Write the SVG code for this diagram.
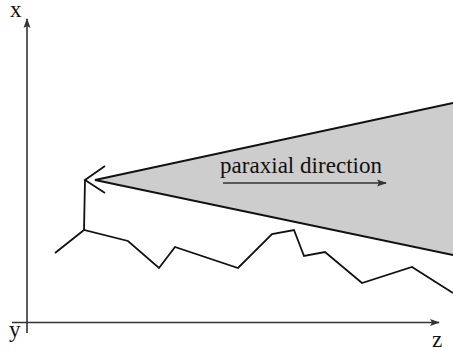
<svg xmlns="http://www.w3.org/2000/svg" width="453" height="351" viewBox="0 0 453 351">
<style>
.ax{stroke:#333;stroke-width:1.6;fill:none}
.ln{stroke:#111;stroke-width:1.8;fill:none;stroke-linejoin:miter}
.t{font-family:"Liberation Serif",serif;font-size:23px;fill:#111}
</style>
<defs>
<marker id="ah" markerWidth="10" markerHeight="8" refX="9" refY="4" orient="auto" markerUnits="userSpaceOnUse">
<path d="M0,0.5 L10,4 L0,7.5 L2,4 Z" fill="#333"/>
</marker>
</defs>
<rect width="453" height="351" fill="#fff"/>
<g id="axes">
<line class="ax" x1="27" y1="333" x2="27" y2="19" marker-end="url(#ah)"/>
<line class="ax" x1="12" y1="322.5" x2="439" y2="322.5" marker-end="url(#ah)"/>
<text class="t" x="10" y="17">x</text>
<text class="t" x="9" y="337">y</text>
<text class="t" x="432" y="347">z</text>
</g>
<g id="cone">
<path d="M95,180 L453,103 L453,255 Z" fill="#cdcdcd" stroke="none"/>
<polyline class="ln" points="453,103 95,180 453,255"/>
</g>
<g id="direction">
<text class="t" x="220" y="173" textLength="162">paraxial direction</text>
<line class="ax" x1="223" y1="183" x2="386" y2="183" marker-end="url(#ah)"/>
</g>
<g id="surface">
<polyline class="ln" points="105,166 85,180 105,193"/>
<polyline class="ln" points="85,180 84,230"/>
<polyline class="ln" points="55,253 84,230 128,241 159,268 175,247 238,268 272,234 294,230 304,256 325,252 362,283 412,267 453,293"/>
</g>
</svg>
